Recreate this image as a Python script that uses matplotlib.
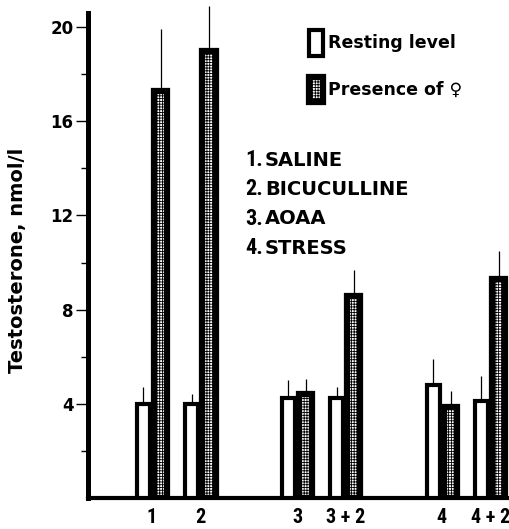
import matplotlib
matplotlib.use("Agg")
import matplotlib.pyplot as plt
from matplotlib.patches import Patch
from matplotlib import font_manager

# данные
groups = ['1', '2', '3', '3 + 2', '4', '4 + 2']
group_pos = [0, 1, 3, 4, 6, 7]
resting = [4.0, 4.0, 4.25, 4.25, 4.8, 4.1]
resting_err = [0.7, 0.4, 0.75, 0.45, 1.1, 1.1]
presence = [17.3, 19.0, 4.4, 8.6, 3.85, 9.3]
presence_err = [2.6, 1.9, 0.65, 1.1, 0.7, 1.2]

treat_num = ['1.', '2.', '3.', '4.']
treat_name = ['SALINE', 'BICUCULLINE', 'AOAA', 'STRESS']

plt.rcParams['hatch.linewidth'] = 0.6

# узкий шрифт для цифр, если найдётся
installed = {f.name for f in font_manager.fontManager.ttflist}
narrow_name = 'DejaVu Sans'
for cand in ['Liberation Sans Narrow', 'DejaVu Sans Condensed', 'Roboto Condensed',
             'Open Sans Condensed', 'Noto Sans Condensed']:
    if cand in installed:
        narrow_name = cand
        break
narrow_size = 14.5 if narrow_name != 'DejaVu Sans' else 11

W, H = 510, 529
fig = plt.figure(figsize=(W / 100, H / 100), dpi=100)
ax = fig.add_axes([88 / W, 1 - 498 / H, 422 / W, 485 / H])

off = 0.18
bw = 0.27
x_r = [p - off for p in group_pos]
x_p = [p + off for p in group_pos]

ax.bar(x_r, resting, width=bw, color='white', edgecolor='black', linewidth=3.0, zorder=3)
ax.bar(x_p, presence, width=bw, color='white', edgecolor='black', linewidth=4.5,
       hatch='++++++', zorder=3)

# только верхняя половина планок погрешности
ax.errorbar(x_r, resting, yerr=[[0] * len(resting), resting_err], fmt='none',
            ecolor='black', elinewidth=0.9, capsize=0, zorder=2, clip_on=False)
ax.errorbar(x_p, presence, yerr=[[0] * len(presence), presence_err], fmt='none',
            ecolor='black', elinewidth=0.9, capsize=0, zorder=2, clip_on=False)

ax.set_xlim(-1.325, 7.41)
ax.set_ylim(0, 20.6)

ax.spines['top'].set_visible(False)
ax.spines['right'].set_visible(False)
ax.spines['left'].set_linewidth(3.6)
ax.spines['bottom'].set_linewidth(3.0)

ax.set_yticks([4, 8, 12, 16, 20])
ax.set_yticks([2, 6, 10, 14, 18], minor=True)
ax.tick_params(axis='y', which='major', length=9, width=1.0, pad=1.5,
               labelsize=12)
ax.tick_params(axis='y', which='minor', length=5, width=1.0)
for t in ax.get_yticklabels():
    t.set_fontweight('bold')

ax.set_xticks(group_pos)
ax.set_xticklabels(groups, family=narrow_name, fontweight='bold', fontsize=narrow_size)
ax.tick_params(axis='x', length=0, pad=7)

ax.set_ylabel('Testosterone, nmol/l', fontsize=14, fontweight='bold')
ax.yaxis.set_label_coords(-0.145, 0.49)

# легенда
handles = [Patch(facecolor='white', edgecolor='black', linewidth=3.0),
           Patch(facecolor='white', edgecolor='black', linewidth=4.5, hatch='++++++')]
leg = ax.legend(handles, ['Resting level', 'Presence of ♀'],
                loc='upper left', bbox_to_anchor=(309 / W, 1 - 30 / H),
                bbox_transform=fig.transFigure, frameon=False,
                handlelength=0.8, handleheight=1.9, handletextpad=0.3,
                labelspacing=1.2, borderpad=0, borderaxespad=0,
                prop={'weight': 'bold', 'size': 12.5})

# список обработок
rows_y = [160, 189, 219, 248]
for num, name, y in zip(treat_num, treat_name, rows_y):
    fig.text(245 / W, 1 - y / H, num, family=narrow_name, fontweight='bold',
             fontsize=narrow_size + 1.5, va='center', ha='left')
    fig.text(265 / W, 1 - y / H, name, fontweight='bold', fontsize=14,
             va='center', ha='left')

plt.savefig('out.png', dpi=100)
